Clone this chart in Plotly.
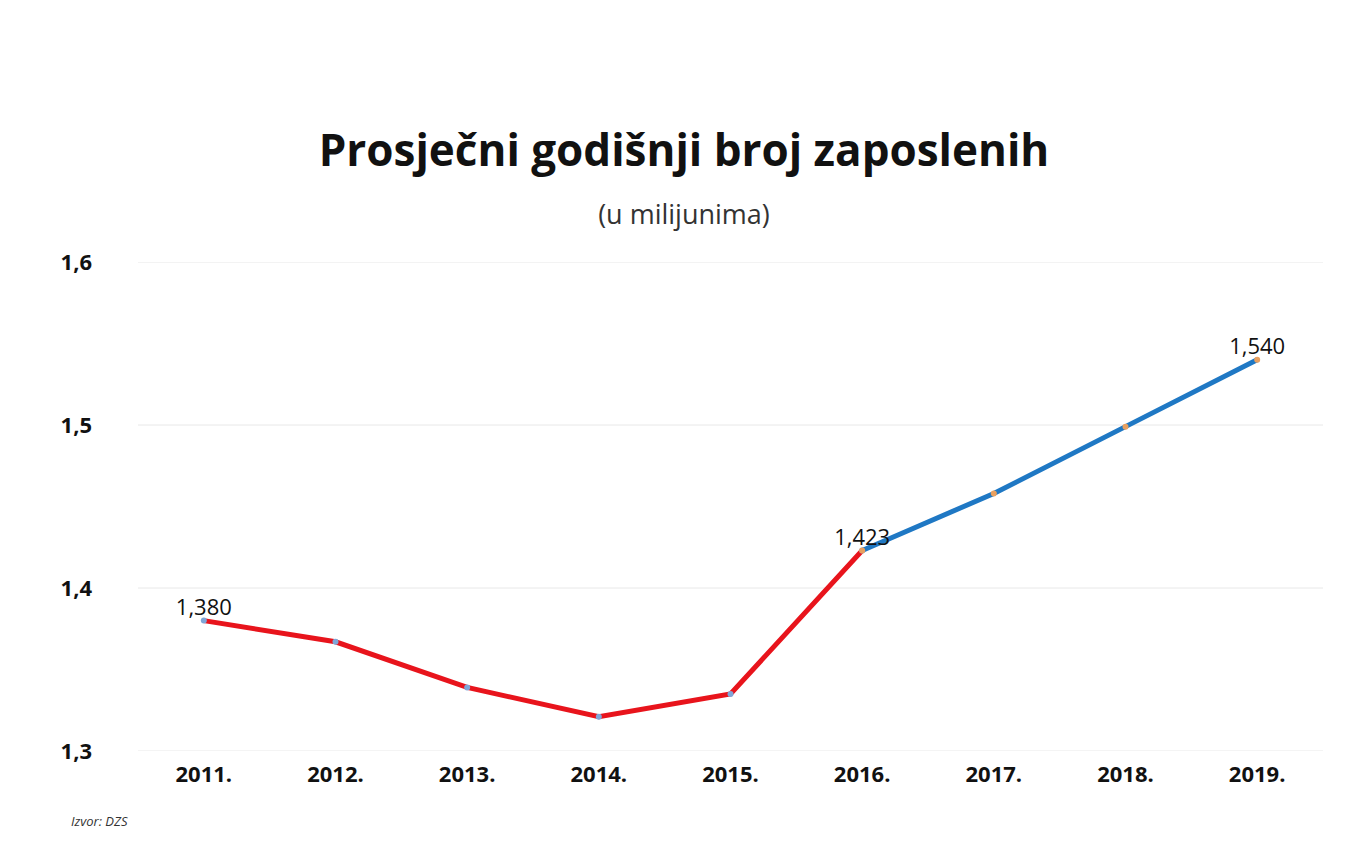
import plotly.graph_objects as go

years = ['2011.', '2012.', '2013.', '2014.', '2015.', '2016.', '2017.', '2018.', '2019.']
values = [1.380, 1.367, 1.339, 1.321, 1.335, 1.423, 1.458, 1.499, 1.540]
labels = ['1,380', '', '', '', '', '1,423', '', '', '1,540']

fig = go.Figure()

# light grid lines drawn as shapes so the edge ones show
for g in [1.3, 1.4, 1.5, 1.6]:
    fig.add_shape(type='line', xref='paper', yref='y', x0=0, x1=1, y0=g, y1=g,
                  line=dict(color='#e8e8e8', width=1), layer='below')

# red part 2011-2016
fig.add_trace(go.Scatter(
    x=years[:6], y=values[:6], mode='lines+markers',
    line=dict(color='#e8141c', width=5),
    marker=dict(size=6, color='#7fa6d8'),
    showlegend=False
))
# blue part 2016-2019
fig.add_trace(go.Scatter(
    x=years[5:], y=values[5:], mode='lines+markers',
    line=dict(color='#1f78c4', width=5),
    marker=dict(size=6, color='#e8a060'),
    showlegend=False
))
# value labels
fig.add_trace(go.Scatter(
    x=years, y=values, mode='text', text=labels, textposition='top center',
    textfont=dict(size=22, color='#111111', family='Open Sans'),
    showlegend=False, cliponaxis=False
))

fig.add_annotation(
    x=years[4], y=values[4], text='1,335', showarrow=True,
    ax=-50, ay=-42, arrowcolor='#bbbbbb', arrowwidth=1, arrowhead=0,
    font=dict(size=22, color='#111111', family='Open Sans'), standoff=3
)

fig.update_layout(
    width=1352, height=856,
    margin=dict(l=130, r=37, t=254, b=113, autoexpand=False),
    plot_bgcolor='white', paper_bgcolor='white',
    font=dict(family='Open Sans', color='#111111'),
    title=dict(
        text='<b>Prosječni godišnji broj zaposlenih</b><br><span style="font-size:27px;color:#333">(u milijunima)</span>',
        x=0.5, xanchor='center', y=0.815, yanchor='middle',
        font=dict(size=44, color='#111111', family='Open Sans')
    ),
    xaxis=dict(
        type='category', range=[-0.5, 8.5], showgrid=False, automargin=False,
        tickfont=dict(size=22, color='#111111'), ticklabelstandoff=8,
        tickprefix='<b>', ticksuffix='</b>'
    ),
    yaxis=dict(
        range=[1.3, 1.6], dtick=0.1, tickformat='.1f', showgrid=False,
        zeroline=False, automargin=False,
        tickfont=dict(size=22, color='#111111'), ticklabelstandoff=45,
        tickprefix='<b>', ticksuffix='</b>'
    ),
    separators=',.'
)

fig.add_annotation(
    xref='paper', yref='paper', x=-0.058, y=-0.165, xanchor='left',
    text='<i>Izvor: DZS</i>', showarrow=False,
    font=dict(size=13, color='#333333')
)

fig.write_html("out.html")
